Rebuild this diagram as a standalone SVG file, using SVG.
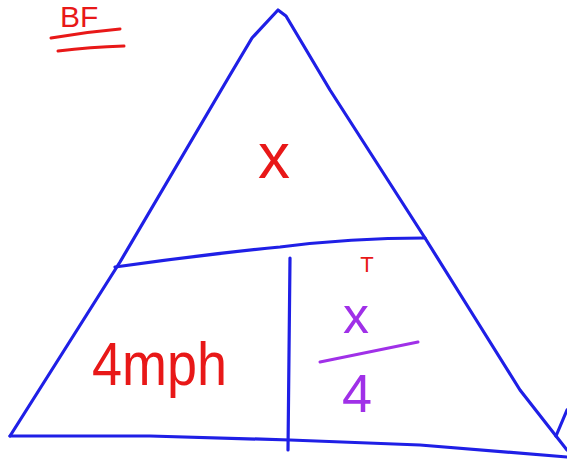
<svg xmlns="http://www.w3.org/2000/svg" width="567" height="465" viewBox="0 0 567 465">
<style>
.b{fill:none;stroke:#1f1fe6;stroke-width:3.2;stroke-linecap:round;stroke-linejoin:round}
.r{fill:#e81818;font-family:"Liberation Sans",sans-serif}
.p{fill:#a030e8;font-family:"Liberation Sans",sans-serif}
.rl{fill:none;stroke:#e81818;stroke-width:3;stroke-linecap:round}
.pl{fill:none;stroke:#a030e8;stroke-width:3;stroke-linecap:round}
</style>
<rect width="567" height="465" fill="#fff"/>
<g id="triangle">
<path class="b" d="M10,436 L120,262 L230,75 L252,38 L278,10 L286,16 L330,90 L425,238 L470,310 L520,390 L567,450"/>
<path class="b" d="M10,436 L150,436 L290,440 L420,445 L567,457"/>
<path class="b" d="M115,267 Q200,255 280,247 Q350,238 425,238"/>
<path class="b" d="M290,258 L288,450"/>
<path class="b" d="M567,410 L556,436"/>
</g>
<g id="title">
<text class="r" x="60" y="27" font-size="30">BF</text>
<path class="rl" d="M51,38 Q85,32 120,29"/>
<path class="rl" d="M58,51 Q90,47 124,46"/>
</g>
<g id="top">
<text class="r" x="274" y="178" font-size="64" text-anchor="middle">x</text>
</g>
<g id="speed">
<text class="r" x="92" y="385" font-size="62" textLength="135" lengthAdjust="spacingAndGlyphs">4mph</text>
</g>
<g id="time">
<text class="r" x="367" y="272" font-size="22" text-anchor="middle">T</text>
<text class="p" x="356" y="333" font-size="52" text-anchor="middle">x</text>
<path class="pl" d="M320,362 L418,342"/>
<text class="p" x="357" y="412" font-size="54" text-anchor="middle">4</text>
</g>
</svg>
